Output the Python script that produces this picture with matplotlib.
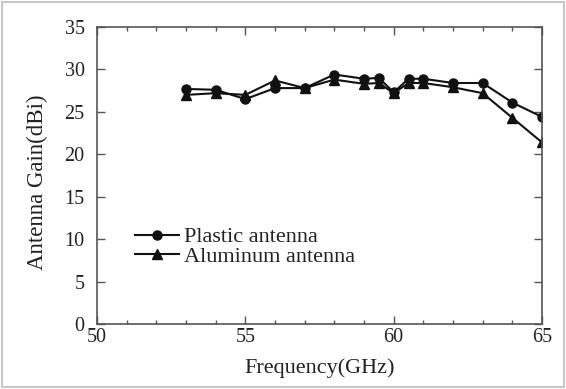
import numpy as np
import matplotlib.pyplot as plt
from matplotlib.ticker import MultipleLocator
from matplotlib.patches import Rectangle

plt.rcParams['font.family'] = ['Liberation Serif', 'DejaVu Serif']

freq = [53, 54, 55, 56, 57, 58, 59, 59.5, 60, 60.5, 61, 62, 63, 64, 65]
plastic = [27.7, 27.6, 26.5, 27.8, 27.8, 29.4, 28.9, 29.0, 27.3, 28.9, 28.9, 28.4, 28.4, 26.1, 24.4]
aluminum = [27.0, 27.2, 27.0, 28.7, 27.8, 28.8, 28.3, 28.4, 27.2, 28.4, 28.4, 27.9, 27.2, 24.3, 21.4]

fig = plt.figure(figsize=(5.66, 3.89), dpi=100)
ax = fig.add_axes([0.1714, 0.1671, 0.7862, 0.7635])

# light grey frame around the whole picture
fig.patches.append(Rectangle((0.003, 0.004), 0.994, 0.992, transform=fig.transFigure,
                             fill=False, edgecolor='#c8c8c8', linewidth=1.5))

ax.plot(freq, plastic, '-o', color='#111111', markersize=6.5, linewidth=1.5, label='Plastic antenna')
ax.plot(freq, aluminum, '-^', color='#111111', markersize=6.5, linewidth=1.5, label='Aluminum antenna')

ax.set_xlim(50, 65)
ax.set_ylim(0, 35)
ax.xaxis.set_major_locator(MultipleLocator(5))
ax.xaxis.set_minor_locator(MultipleLocator(1))
ax.yaxis.set_major_locator(MultipleLocator(5))
ax.tick_params(which='both', direction='in', top=True, right=True, labelsize=14.5,
               color='#555555', labelcolor='#222222')
ax.tick_params(which='major', length=6, width=1)
ax.tick_params(which='minor', length=3, width=1)
ax.tick_params(axis='x', pad=3)
ax.tick_params(axis='y', pad=9)
for s in ax.spines.values():
    s.set_color('#555555')
    s.set_linewidth(1.2)

ax.set_xlabel('Frequency(GHz)', fontsize=16, color='#222222', labelpad=8)
ax.set_ylabel('Antenna Gain(dBi)', fontsize=16.5, color='#222222')
ax.yaxis.set_label_coords(-0.111, 0.476)

ax.legend(loc='center left', bbox_to_anchor=(0.06, 0.26), frameon=False, fontsize=16,
          handlelength=2.0, handletextpad=0.2, labelspacing=-0.05, borderpad=0,
          labelcolor='#222222')

plt.savefig('out.png', dpi=100)
